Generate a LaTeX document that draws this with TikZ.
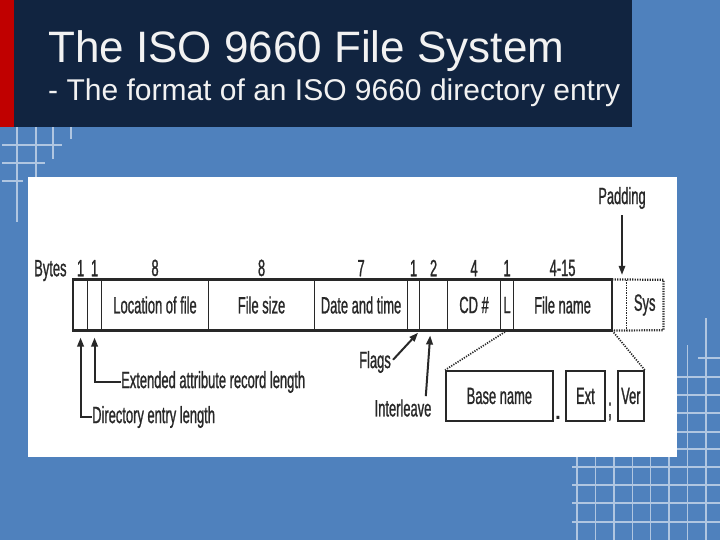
\documentclass[tikz,border=0pt]{standalone}
\usepackage{fontspec}
\setmainfont{Liberation Sans}
\newfontfamily\narrowsans[FakeStretch=0.55,FakeBold=0.9]{Liberation Sans}
\usepackage{tikz}
\usetikzlibrary{arrows.meta,positioning}
\definecolor{slideblue}{RGB}{79,129,189}
\definecolor{titlenavy}{RGB}{17,36,64}
\definecolor{titlered}{RGB}{192,0,0}
\colorlet{gridblue}{slideblue!45!white}
\definecolor{inkgray}{RGB}{40,40,40}

\begin{document}
\begin{tikzpicture}[x=1pt,y=-1pt,
  figtext/.style={text=inkgray,font=\narrowsans\fontsize{23.5}{25}\selectfont},
  cell/.style={figtext,draw=inkgray,line width=1.1pt,anchor=west,minimum height=50pt,inner sep=0pt},
  blank/.style={figtext,anchor=west,minimum height=50pt,inner sep=0pt},
  subbox/.style={cell,line width=1.8pt},
  bytenum/.style={figtext,inner sep=0pt},
  lab/.style={figtext,inner sep=0pt},
  conn/.style={draw=inkgray,line width=2pt,-{Triangle[length=9pt,width=6.5pt]}},
  dotline/.style={draw=inkgray,line width=1.7pt,dash pattern=on 1.2pt off 1.3pt},
  gridline/.style={draw=gridblue,line width=1.4pt}]
\useasboundingbox (0,0) rectangle (720,540);
\fill[slideblue] (0,0) rectangle (720,540);
% grid, top left
\draw[gridline] (17,127) -- (17,222);
\draw[gridline] (36,127) -- (36,177);
\draw[gridline] (53,127) -- (53,159);
\draw[gridline] (71,127) -- (71,139);
\draw[gridline] (2,145) -- (62,145);
\draw[gridline] (2,163) -- (45,163);
\draw[gridline] (2,181) -- (23,181);
% grid, bottom right
\foreach \gx in {577,595.4,613.8,632.2,650.6,669}
  \draw[gridline] (\gx,457) -- (\gx,540);
\draw[gridline] (687.4,345) -- (687.4,540);
\draw[gridline] (705.8,318) -- (705.8,540);
\draw[gridline] (698,358) -- (720,358);
\foreach \gy in {377,395,413,432,449}
  \draw[gridline] (677,\gy) -- (720,\gy);
\foreach \gy in {467,485,503,522}
  \draw[gridline] (572,\gy) -- (720,\gy);
% title bar
\fill[titlenavy] (0,0) rectangle (632,127);
\fill[titlered] (0,0) rectangle (14,127);
\node[anchor=base west,inner sep=0pt,text=white!95!black,font=\fontsize{44}{48}\selectfont] (title) at (48,63) {The ISO 9660 File System};
\node[anchor=base west,inner sep=0pt,text=white!95!black,font=\fontsize{30}{32}\selectfont] (subtitle) at (48,101) {- The format of an ISO 9660 directory entry};
% white panel
\fill[white] (28,177) rectangle (677,457);

% directory entry fields
\node[cell,minimum width=14pt] (dirlen) at (73,305) {};
\node[cell,minimum width=14pt] (extlen) at (87,305) {};
\node[cell,minimum width=107pt] (loc) at (101,305) {Location of file};
\node[cell,minimum width=106pt] (size) at (208,305) {File size};
\node[cell,minimum width=93pt] (date) at (314,305) {Date and time};
\node[cell,minimum width=12pt] (flags) at (407,305) {};
\node[cell,minimum width=28pt] (inter) at (419,305) {};
\node[cell,minimum width=53pt] (cd) at (447,305) {CD \#};
\node[cell,minimum width=13pt] (len) at (500,305) {L};
\node[cell,minimum width=98pt] (fname) at (513,305) {File name};
\node[blank,minimum width=15pt] (pad) at (611,305) {};
\node[blank,minimum width=37pt] (sys) at (626,305) {Sys};
\draw[inkgray,line width=2pt] (dirlen.north west) rectangle (fname.south east);
\draw[dotline,line width=2.2pt] (fname.north east) -- (sys.north east) -- (sys.south east) -- (fname.south east);
\draw[dotline,line width=1pt] (pad.north east) -- (pad.south east);

% byte counts
\node[bytenum,above=3pt of dirlen] (b1) {1};
\node[bytenum,above=3pt of extlen] (b2) {1};
\node[bytenum,above=3pt of loc] (b3) {8};
\node[bytenum,above=3pt of size] (b4) {8};
\node[bytenum,above=3pt of date] (b5) {7};
\node[bytenum,above=3pt of flags] (b6) {1};
\node[bytenum,above=3pt of inter] (b7) {2};
\node[bytenum,above=3pt of cd] (b8) {4};
\node[bytenum,above=3pt of len] (b9) {1};
\node[bytenum,above=3pt of fname] (b10) {4-15};
\node[lab,base left=10pt of b1] (bytes) {Bytes};

% padding
\node[lab] (padlab) at (622,198) {Padding};
\draw[conn,line width=1.6pt,shorten <=6pt,shorten >=5pt] (padlab.south) -- (padlab.south |- pad.north);

% length fields
\node[lab,anchor=west] (extlab) at (121,382) {Extended attribute record length};
\node[lab,anchor=west] (dirlab) at (92,417) {Directory entry length};
\draw[conn,shorten >=7pt] (extlab.west) -| (extlen.south);
\draw[conn,shorten >=7pt] (dirlab.west) -| (dirlen.south);

% flags and interleave
\node[lab] (flagslab) at (375,362) {Flags};
\node[lab] (interlab) at (403,408) {Interleave};
\draw[conn,shorten <=3pt,shorten >=3pt] (flagslab.east) -- (flags.south east);
\draw[conn,shorten <=3pt,shorten >=5pt] ([xshift=-6pt]interlab.north east) -- ([xshift=-3pt]inter.south);

% file name parts
\node[subbox,minimum width=107pt] (base) at (445,396) {Base name};
\node[subbox,minimum width=39pt] (ext) at (565,396) {Ext};
\node[subbox,minimum width=26pt] (ver) at (617,396) {Ver};
\node[lab,font=\fontsize{30}{30}\selectfont,anchor=base] (dot) at (558,419) {.};
\node[lab,font=\narrowsans\fontsize{27}{28}\selectfont,anchor=base] (semi) at (610,417) {;};
\draw[dotline] (len.south) -- (base.north west);
\draw[dotline] (fname.south east) -- (ver.north east);
\end{tikzpicture}
\end{document}
